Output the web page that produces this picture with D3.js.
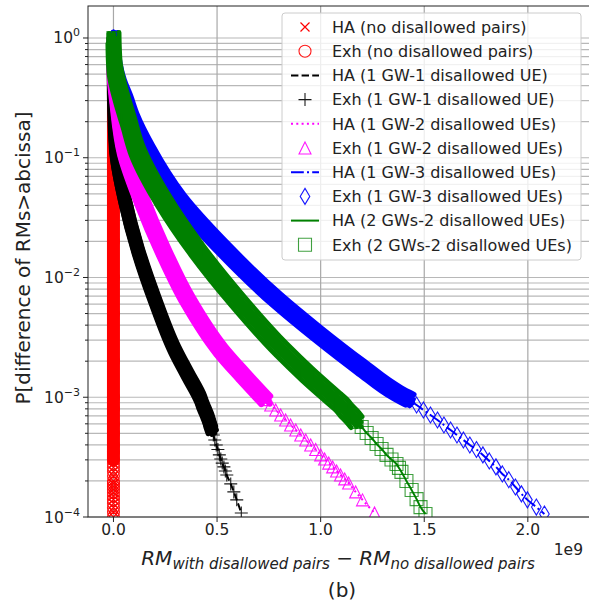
<!DOCTYPE html>
<html><head><meta charset="utf-8">
<script src="https://cdn.jsdelivr.net/npm/d3@7"></script>
<style>body{margin:0;background:#fff}svg{display:block}</style>
</head><body><svg id="c" width="589" height="608"></svg>
<script>
// ---- data (x in units of 1e9) ----
const xTicks=[0,0.5,1.0,1.5,2.0];
const xTickLabels=["0.0","0.5","1.0","1.5","2.0"];
const yTicks=[1e-4,1e-3,1e-2,1e-1,1];
const yTickExps=["\u22124","\u22123","\u22122","\u22121","0"];

const redX=[0,0,0,0,0,0,0,0,0,0,0,0,0,0,0,0,0,0,0,0,0,0,0,0,0,0,0,0,0,0,0,0,0];
const redY=[1,0.7,0.5,0.3,0.2,0.1,0.05,0.02,0.01,0.005,0.002,0.001,0.0008,0.0006,0.0005,0.0004,0.00035,0.0003,0.00028,0.00026,0.00024,0.00022,0.0002,0.00019,0.00018,0.00017,0.00016,0.00015,0.00014,0.00013,0.00012,0.00011,0.0001];

const blackX=[0,0.002,0.012,0.055,0.118,0.200,0.296,0.359,0.422,0.431,0.441,0.451,0.460,0.467,0.475,0.482,0.489,0.496,0.504,0.511,0.518,0.525,0.533,0.540,0.547,0.566,0.581,0.595,0.617];
const blackY=[1,0.334,0.116,0.0443,0.0170,0.00651,0.00249,0.00154,0.000955,0.000861,0.000783,0.000711,0.000646,0.000586,0.000533,0.000484,0.000440,0.000399,0.000366,0.000330,0.000305,0.000282,0.000262,0.000242,0.000224,0.000189,0.000162,0.000139,0.000108];

const magentaX=[0,0.002,0.017,0.053,0.137,0.239,0.359,0.518,0.624,0.735,0.759,0.783,0.807,0.831,0.855,0.880,0.904,0.928,0.952,0.976,1.000,1.019,1.039,1.058,1.077,1.096,1.116,1.135,1.169,1.202,1.260];
const magentaY=[1,0.573,0.304,0.116,0.0443,0.0170,0.00651,0.00249,0.00154,0.000955,0.000861,0.000783,0.000711,0.000646,0.000586,0.000533,0.000484,0.000440,0.000399,0.000366,0.000330,0.000305,0.000282,0.000262,0.000242,0.000224,0.000208,0.000192,0.000162,0.000139,0.000108];

const blueX=[0,0.002,0.012,0.031,0.060,0.094,0.166,0.320,0.537,0.788,0.981,1.193,1.371,1.429,1.463,1.496,1.530,1.564,1.595,1.627,1.658,1.689,1.720,1.752,1.783,1.814,1.846,1.877,1.908,1.940,1.969,1.998,2.041,2.080];
const blueY=[1,0.721,0.540,0.405,0.304,0.207,0.116,0.0443,0.0170,0.00651,0.00344,0.00179,0.00108,0.000955,0.000861,0.000783,0.000711,0.000646,0.000586,0.000533,0.000484,0.000440,0.000399,0.000366,0.000330,0.000294,0.000262,0.000229,0.000205,0.000178,0.000156,0.000139,0.000121,0.000106];

const greenX=[0,0.002,0.007,0.022,0.041,0.070,0.113,0.239,0.402,0.595,0.812,0.937,1.072,1.101,1.125,1.149,1.173,1.198,1.222,1.246,1.270,1.294,1.318,1.342,1.366,1.378,1.390,1.414,1.439,1.463,1.482,1.506];
const greenY=[1,0.721,0.540,0.405,0.304,0.207,0.116,0.0443,0.0170,0.00651,0.00249,0.00154,0.000955,0.000861,0.000767,0.000697,0.000621,0.000564,0.000503,0.000457,0.000407,0.000370,0.000330,0.000302,0.000277,0.000257,0.000238,0.000200,0.000168,0.000141,0.000121,0.000106];

const haLabels=["HA (no disallowed pairs)","HA (1 GW-1 disallowed UE)","HA (1 GW-2 disallowed UEs)","HA (1 GW-3 disallowed UEs)","HA (2 GWs-2 disallowed UEs)"];
const exhLabels=["Exh (no disallowed pairs)","Exh (1 GW-1 disallowed UE)","Exh (1 GW-2 disallowed UEs)","Exh (1 GW-3 disallowed UEs)","Exh (2 GWs-2 disallowed UEs)"];

// ---- styles ----
// band = envelope of densely overlapping hollow markers (pen offsets approximate marker shape)
const series=[
 {xs:redX,ys:redY,color:"#ff0000",ha:"xmark",exh:"circle",dash:null,cut:0.0003,
  pen:[[0,0]],r:6.5},
 {xs:blackX,ys:blackY,color:"#000000",ha:"line",exh:"plus",dash:"7.4,3.2",cut:0.0005,
  pen:[[-4.5,0],[4.5,0],[0,-4.5],[0,4.5],[0,0],[3,3],[-3,-3],[3.8,-3.8],[-3.8,3.8]],r:2.5},
 {xs:magentaX,ys:magentaY,color:"#ff00ff",ha:"line",exh:"triangle",dash:"2,3.3",cut:0.0009,
  pen:[[0,-4],[4,4],[-4,4],[0,1],[2.5,0],[-2.5,0],[4.5,-3.5],[-4.5,4.5]],r:3},
 {xs:blueX,ys:blueY,color:"#0000ff",ha:"line",exh:"diamond",dash:"12.8,3.2,2,3.2",cut:0.0009,
  pen:[[0,-5.5],[0,5.5],[-3,0],[3,0],[0,0],[2.5,3],[-2.5,-3],[4,-5],[-4,5]],r:3},
 {xs:greenX,ys:greenY,color:"#008000",ha:"line",exh:"square",dash:null,cut:0.0006,
  pen:[[-4.5,-4.5],[4.5,4.5],[0,0],[4.5,0],[-4.5,0],[0,4.5],[0,-4.5],[5.5,-5.5],[-5.5,5.5]],r:2.5}
];

const F="DejaVu Sans";
const svg=d3.select("#c");
const L=88,R=590,T=6,B=517;
const x=d3.scaleLinear().domain([-0.1229,2.3]).range([L,R]);
const y=d3.scaleLog().domain([1e-4,1.85]).range([B,T]);

svg.append("defs").append("clipPath").attr("id","clip")
  .append("rect").attr("x",L).attr("y",T).attr("width",R-L).attr("height",B-T);

// grid
const grid=svg.append("g");
y.ticks().forEach(v=>{
  grid.append("line").attr("x1",L).attr("x2",R).attr("y1",y(v)).attr("y2",y(v))
    .attr("stroke","#b8b8b8").attr("stroke-width",1.2);
});
xTicks.forEach(v=>{
  grid.append("line").attr("x1",x(v)).attr("x2",x(v)).attr("y1",T).attr("y2",B)
    .attr("stroke","#a8a8a8").attr("stroke-width",1.2);
});

function mpath(kind){
  switch(kind){
    case "circle": return "M6,0A6,6,0,1,1,-6,0A6,6,0,1,1,6,0Z";
    case "xmark": return "M-4.5,-4.5L4.5,4.5M-4.5,4.5L4.5,-4.5";
    case "plus": return "M-6.5,0L6.5,0M0,-6.5L0,6.5";
    case "triangle": return "M0,-6L6,6L-6,6Z";
    case "diamond": return "M0,-8L4.8,0L0,8L-4.8,0Z";
    case "square": return "M-6.5,-6.5L6.5,-6.5L6.5,6.5L-6.5,6.5Z";
  }
}

const plot=svg.append("g").attr("clip-path","url(#clip)");
const line=d3.line().x(d=>x(d[0])).y(d=>y(d[1])).curve(d3.curveMonotoneY);

series.forEach(s=>{
  const pts=s.xs.map((v,i)=>[v,s.ys[i]]);
  const g=plot.append("g");
  if(s.ha==="line"){
    g.append("path").attr("d",line(pts)).attr("fill","none").attr("stroke",s.color)
      .attr("stroke-width",2).attr("stroke-dasharray",s.dash);
  } else {
    pts.forEach(p=>g.append("path").attr("d",mpath(s.ha)).attr("transform",`translate(${x(p[0])},${y(p[1])})`)
      .attr("fill","none").attr("stroke",s.color).attr("stroke-width",1.2));
  }
  const dense=pts.filter(p=>p[1]>=s.cut);
  const dpath=line(dense);
  s.pen.forEach(o=>{
    g.append("path").attr("d",dpath).attr("transform",`translate(${o[0]},${o[1]})`)
      .attr("fill","none").attr("stroke",s.color).attr("stroke-width",2*s.r)
      .attr("stroke-linecap","round").attr("stroke-linejoin","round");
  });
  pts.forEach(p=>g.append("path").attr("d",mpath(s.exh)).attr("transform",`translate(${x(p[0])},${y(p[1])})`)
      .attr("fill","none").attr("stroke",s.color).attr("stroke-width",1.1).attr("opacity",s.exh==="square"?0.75:0.9));
});

// spines
svg.append("rect").attr("x",L).attr("y",T).attr("width",R-L).attr("height",B-T)
  .attr("fill","none").attr("stroke","#222").attr("stroke-width",1);

// ticks
const ax=svg.append("g");
y.ticks().forEach(v=>{
  const major=yTicks.some(t=>Math.abs(Math.log10(t)-Math.log10(v))<1e-9);
  ax.append("line").attr("x1",L).attr("x2",L-(major?5:3)).attr("y1",y(v)).attr("y2",y(v))
    .attr("stroke","#222").attr("stroke-width",1);
});
yTicks.forEach((v,i)=>{
  const t=ax.append("text").attr("x",80).attr("y",y(v)+5.5).attr("text-anchor","end")
    .attr("font-family",F).attr("font-size",15.5).attr("fill","#222");
  t.append("tspan").text("10");
  t.append("tspan").attr("dy",-7).attr("font-size",11).text(yTickExps[i]);
});
xTicks.forEach((v,i)=>{
  ax.append("line").attr("x1",x(v)).attr("x2",x(v)).attr("y1",B).attr("y2",B+5).attr("stroke","#222");
  ax.append("text").attr("x",x(v)).attr("y",535).attr("text-anchor","middle")
    .attr("font-family",F).attr("font-size",15.5).attr("fill","#222").text(xTickLabels[i]);
});
ax.append("text").attr("x",583).attr("y",555).attr("text-anchor","end")
  .attr("font-family",F).attr("font-size",15.5).attr("fill","#222").text("1e9");

// axis labels
const xl=svg.append("text").attr("x",338).attr("y",565).attr("text-anchor","middle")
  .attr("font-family",F).attr("font-style","italic").attr("fill","#222").attr("font-size",20);
xl.append("tspan").text("RM");
xl.append("tspan").attr("font-size",15).attr("dy",4).text("with disallowed pairs");
xl.append("tspan").attr("font-size",20).attr("dy",-4).attr("font-style","normal").text(" \u2212 ");
xl.append("tspan").text("RM");
xl.append("tspan").attr("font-size",15).attr("dy",4).text("no disallowed pairs");

svg.append("text").attr("x",342).attr("y",597).attr("text-anchor","middle")
  .attr("font-family",F).attr("font-size",20).attr("fill","#222").text("(b)");

svg.append("text").attr("transform","translate(30,258) rotate(-90)").attr("text-anchor","middle")
  .attr("font-family",F).attr("font-size",20).attr("fill","#222").text("P[difference of RMs>abcissa]");

// legend
const lg=svg.append("g");
lg.append("rect").attr("x",282).attr("y",13).attr("width",299).attr("height",247).attr("rx",3)
  .attr("fill","#fff").attr("fill-opacity",0.8).attr("stroke","#cccccc").attr("stroke-width",1);
const rowH=24.2, row0=27;
series.forEach((s,i)=>{
  const yh=row0+(2*i)*rowH, ye=row0+(2*i+1)*rowH;
  if(s.ha==="line"){
    lg.append("line").attr("x1",291).attr("x2",319).attr("y1",yh).attr("y2",yh)
      .attr("stroke",s.color).attr("stroke-width",2).attr("stroke-dasharray",s.dash);
  } else {
    lg.append("path").attr("d",mpath(s.ha)).attr("transform",`translate(305,${yh})`)
      .attr("fill","none").attr("stroke",s.color).attr("stroke-width",1.2);
  }
  lg.append("path").attr("d",mpath(s.exh)).attr("transform",`translate(305,${ye})`)
    .attr("fill","none").attr("stroke",s.color).attr("stroke-width",1.1).attr("opacity",s.exh==="square"?0.75:0.9);
  lg.append("text").attr("x",332).attr("y",yh+5.7).attr("font-family",F).attr("font-size",16)
    .attr("fill","#222").text(haLabels[i]);
  lg.append("text").attr("x",332).attr("y",ye+5.7).attr("font-family",F).attr("font-size",16)
    .attr("fill","#222").text(exhLabels[i]);
});
</script></body></html>
